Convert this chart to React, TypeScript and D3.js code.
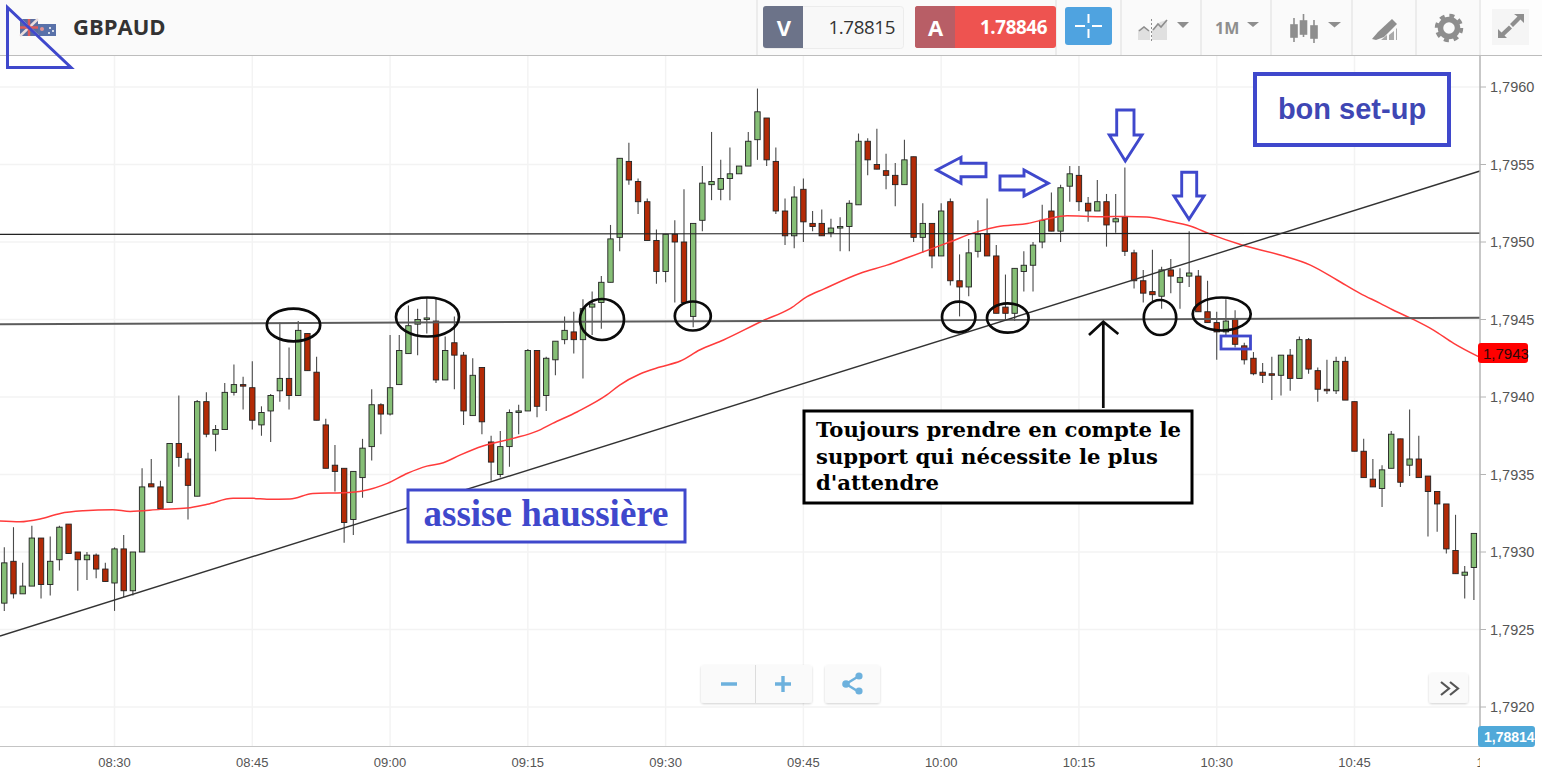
import React from "react";
import * as d3 from "d3";

// Price values are stored as fifth-decimal points above 1.79000 (303 => 1.79303).
const highs = [303,316,293,317,309,310,317,318,300,300,299,293,303,311,300,354,360,346,370,401,364,398,403,382,409,421,413,423,394,402,448,432,449,441,426,386,369,354,352,373,405,396,440,440,459,457,464,464,439,452,429,425,419,375,378,392,395,431,430,426,436,452,455,463,468,478,511,554,564,541,528,508,505,514,534,512,549,571,553,561,549,571,599,580,561,528,536,541,520,521,515,516,527,570,567,573,557,551,566,555,525,512,525,528,492,502,514,528,498,479,483,494,500,524,532,537,549,549,529,540,531,531,548,495,482,495,484,489,483,507,482,475,455,463,456,435,429,422,426,427,431,439,438,419,424,426,426,397,373,360,356,378,373,392,375,349,339,331,324,291,312];
const lows = [262,270,273,278,270,272,288,299,275,282,283,281,262,271,272,300,342,328,332,355,321,336,374,365,379,401,392,379,375,371,397,392,401,417,385,354,339,306,311,335,359,376,388,408,428,427,441,409,411,405,382,388,376,346,348,355,376,391,387,391,414,434,428,412,440,444,474,494,537,518,501,473,474,461,461,445,507,527,527,527,544,549,553,549,518,498,496,500,507,504,503,494,494,524,543,547,534,523,537,500,493,483,491,472,452,465,490,491,454,450,449,468,468,496,507,500,526,520,513,520,497,506,491,470,461,461,457,467,457,471,455,448,424,440,432,421,414,409,398,401,404,412,415,397,402,402,398,365,348,342,329,354,342,349,348,310,313,299,286,270,269];
const opens = [267,294,273,278,309,279,295,318,300,295,298,289,280,302,275,300,344,342,332,370,360,336,397,376,379,403,408,406,382,391,404,412,401,441,416,382,356,354,321,348,368,395,389,408,428,447,450,449,411,435,427,388,419,371,350,368,390,391,430,401,424,437,442,437,458,461,474,503,552,539,526,501,481,505,500,452,514,537,534,541,544,549,566,580,552,520,504,534,512,512,506,509,510,524,565,550,546,543,537,555,503,512,491,526,475,471,494,505,491,458,454,481,485,500,520,507,536,543,525,520,526,513,516,493,475,468,465,482,474,478,478,455,448,442,450,433,425,416,415,414,427,412,437,417,405,404,423,397,365,347,341,354,373,356,360,349,339,331,301,285,290];
const closes = [293,273,278,309,279,294,316,299,295,298,289,281,302,275,300,342,342,328,370,361,343,397,376,379,403,408,407,385,390,401,412,401,443,417,385,354,352,319,352,367,395,389,406,430,446,450,451,411,430,427,391,414,384,358,368,390,391,430,394,425,436,443,437,457,460,474,502,554,540,526,501,481,505,500,461,512,538,539,541,544,549,565,584,553,520,504,529,513,510,504,509,510,525,565,553,547,543,537,553,503,512,491,520,475,471,493,505,491,454,454,483,485,498,514,507,535,544,526,520,526,511,515,494,475,467,466,482,478,477,480,455,448,442,449,434,424,415,414,414,427,412,437,418,405,404,423,398,365,348,342,353,376,345,360,348,339,331,302,286,287,312];

// Moving average: candle index / points.
const emaIndex = [-0.5,1.7,3.9,6.1,8.6,11.8,13.7,17,19.9,22.1,24.9,27.1,28.6,31.1,33.6,36.9,39.1,41.7,43.9,46,47.8,49.6,52.1,55.4,58,59.7,62.4,65.6,67,69.2,71.4,73.6,75.7,78.3,82.6,85.6,87.4,89.2,93.2,96.1,98.3,103,105.7,108.1,111.4,113.5,115.7,119.3,122.2,124.4,126.6,129.1,131.3,134.5,138.9,142.2,145.1,147.6,149.8,151.2,153.4,155.6,157.8,160.5];
const emaPoints = [320,319.5,321.3,324.9,326.6,327.3,326.2,327.5,328.4,330.8,334.6,334.6,334,334.2,337.8,338.2,339.5,344.3,350.8,355.4,357.6,362.5,368.4,373.3,378,383,390.5,401.3,407.7,414.8,419.3,423.2,430.3,436.8,449.2,457.2,464.7,469.6,479.8,485.1,489.8,500.2,506.2,509.8,512,514.8,516.9,516.3,516.5,516.1,513.7,510.3,505.1,498.5,491.6,485.1,475.5,466.9,460.4,456.1,450.1,443.2,434.6,426];

const priceTicks = [1.796, 1.7955, 1.795, 1.7945, 1.794, 1.7935, 1.793, 1.7925, 1.792];
const timeTickIndex = [12, 27, 42, 57, 72, 87, 102, 117, 132, 147, 162];
const timeTickLabels = ["08:30","08:45","09:00","09:15","09:30","09:45","10:00","10:15","10:30","10:45","11:00"];
const lastEma = 1.7943;
const lastPrice = "1,78814";
const bid = "1.78815";
const ask = "1.78846";

const BLUE = "#3f48cc";
const UI = "'Open Sans', sans-serif";
const AX = "'Liberation Sans', Arial, sans-serif";
const SERIF = "'DejaVu Serif', serif";
const ICON = "#8e8e8e";

const x = d3.scaleLinear().domain([0, 160]).range([4.3, 1473.9]);
const y = d3.scaleLinear().domain([1.796, 1.792]).range([87, 707]);
const price = (t: number) => 1.79 + t / 100000;
const fmt = (p: number) => p.toFixed(4).replace(".", ",");

const emaLine = d3.line<number>()
  .x((_, i) => x(emaIndex[i]))
  .y((p) => y(price(p)))
  .curve(d3.curveMonotoneX);

const arrows = [
  "936.7,170 961,157.3 961,163.3 986,163.3 986,176.7 961,176.7 961,183.3",
  "1000,176 1024,176 1024,170 1048.3,183.3 1024,196 1024,190 1000,190",
  "1116.7,110 1134,110 1134,135 1142,135 1125.3,161 1109.3,135 1116.7,135",
  "1181.7,172.3 1196.7,172.3 1196.7,196 1204,196 1189,219.3 1174,196 1181.7,196",
];
const ellipses = [
  [293.5, 325, 26.7, 16.3],
  [427.5, 317, 31.5, 19.5],
  [602, 319.5, 22, 20.5],
  [692.8, 316, 18, 14.5],
  [958.7, 317, 16.7, 15.3],
  [1007.8, 318, 20.8, 14.7],
  [1160, 317.5, 16.2, 17.5],
  [1221.7, 314, 29, 16.5],
];
const noteLines = ["Toujours prendre en compte le", "support qui nécessite le plus", "d'attendre"];
const dividers = [757, 1056, 1121, 1201, 1271, 1352, 1416, 1480];

export default function App() {
  return (
    <svg width={1542} height={775} style={{ position: "fixed", left: 0, top: 0, background: "#fff" }}>
      <defs>
        <clipPath id="plot"><rect x={0} y={56} width={1480} height={691} /></clipPath>
        <clipPath id="timeClip"><rect x={0} y={748} width={1480} height={27} /></clipPath>
        <filter id="sh" x="-10%" y="-10%" width="120%" height="130%">
          <feDropShadow dx={0} dy={1} stdDeviation={1} floodColor="#000" floodOpacity={0.18} />
        </filter>
      </defs>

      {/* grid */}
      <g stroke="#f3f3f3" strokeWidth={1.5}>
        {priceTicks.map((p) => <line key={p} x1={0} x2={1480} y1={y(p)} y2={y(p)} />)}
        {timeTickIndex.slice(0, 10).map((i) => <line key={i} x1={x(i)} x2={x(i)} y1={56} y2={746} />)}
      </g>

      {/* candles */}
      <g clipPath="url(#plot)">
        {highs.map((h, i) => {
          const up = closes[i] >= opens[i];
          const t = y(price(Math.max(opens[i], closes[i])));
          const b = y(price(Math.min(opens[i], closes[i])));
          return (
            <g key={i}>
              <line x1={x(i)} x2={x(i)} y1={y(price(h))} y2={y(price(lows[i]))} stroke="#4a4a4a" strokeWidth={1.1} />
              <rect x={x(i) - 2.7} width={5.4} y={t} height={Math.max(b - t, 1)}
                fill={up ? "#86bf76" : "#b32a06"} stroke="#222" strokeWidth={0.9} />
            </g>
          );
        })}
        <path d={emaLine(emaPoints) ?? ""} fill="none" stroke="#ff3b3b" strokeWidth={1.5} />
      </g>

      {/* drawn support / resistance lines */}
      <line x1={0} y1={234.3} x2={1480} y2={233.2} stroke="#222" strokeWidth={1.2} />
      <line x1={0} y1={324.3} x2={1480} y2={317.8} stroke="#5c5c5c" strokeWidth={1.9} />
      <line x1={0} y1={636} x2={1480} y2={171} stroke="#333" strokeWidth={1.4} />

      {/* axes */}
      <line x1={1480} x2={1480} y1={56} y2={747} stroke="#b4b4b4" strokeWidth={1.5} />
      <line x1={0} x2={1480} y1={746.5} y2={746.5} stroke="#c4c4c4" strokeWidth={1.2} />
      {priceTicks.map((p) => (
        <g key={p}>
          <line x1={1480} x2={1486} y1={y(p)} y2={y(p)} stroke="#b4b4b4" />
          <text x={1490} y={y(p) + 5} fontFamily={AX} fontSize={14.5} fill="#555">{fmt(p)}</text>
        </g>
      ))}
      <g clipPath="url(#timeClip)">
        {timeTickIndex.map((i, k) => (
          <text key={i} x={x(i)} y={767} textAnchor="middle" fontFamily={AX} fontSize={13} fill="#555">{timeTickLabels[k]}</text>
        ))}
      </g>
      <rect x={1478} y={343} width={50} height={20} rx={3} fill="#ff0000" />
      <text x={1483} y={358.5} fontFamily={AX} fontSize={15} fill="#2c0808">{fmt(lastEma)}</text>
      <rect x={1478} y={726} width={57} height={21} rx={3} fill="#50a9d9" />
      <text x={1484} y={741.5} fontFamily={AX} fontSize={14} fontWeight="bold" fill="#fff">{lastPrice}</text>

      {/* toolbar */}
      <rect x={0} y={0} width={1542} height={55} fill="#fafafa" />
      <rect x={1481} y={0} width={61} height={55} fill="#fdfdfd" />
      <line x1={0} x2={1542} y1={55.5} y2={55.5} stroke="#bdbdbd" strokeWidth={1.2} />
      {dividers.map((d) => <line key={d} x1={d} x2={d} y1={0} y2={55} stroke="#dedede" />)}

      {/* flag */}
      <g opacity={0.85}>
        <rect x={20} y={19} width={18} height={17} fill="#3d5490" />
        <rect x={38} y={24} width={18} height={12} fill="#3d5a9c" />
        <path d="M20 19L38 36M38 19L20 36" stroke="#e8d8d8" strokeWidth={2.5} />
        <path d="M29 19V36M20 27.5H38" stroke="#d84040" strokeWidth={2.5} />
        <circle cx={42} cy={29} r={2} fill="#e08080" />
        <circle cx={50} cy={28} r={1} fill="#fff" />
        <circle cx={53} cy={31} r={1} fill="#fff" />
        <circle cx={49} cy={33} r={1} fill="#fff" />
      </g>
      <text x={73} y={35} fontFamily={UI} fontWeight="bold" fontSize={22} fill="#333">GBPAUD</text>

      {/* bid */}
      <rect x={763.5} y={6.5} width={140} height={42} rx={3} fill="#f8f8f8" stroke="#ececec" />
      <path d="M766 6H803V48H766Q763 48 763 45V9Q763 6 766 6Z" fill="#6c7389" />
      <text x={784} y={35.5} textAnchor="middle" fontFamily={UI} fontWeight="bold" fontSize={22} fill="#fff">V</text>
      <text x={895} y={33.5} textAnchor="end" fontFamily={UI} fontSize={18.8} fill="#333" letterSpacing={-0.4}>{bid}</text>
      {/* ask */}
      <rect x={915} y={6} width={141} height={42} rx={3} fill="#ee5350" />
      <path d="M918 6H955V48H918Q915 48 915 45V9Q915 6 918 6Z" fill="#b85e66" />
      <text x={935.5} y={35.5} textAnchor="middle" fontFamily={UI} fontWeight="bold" fontSize={22} fill="#fff">A</text>
      <text x={1047} y={33.5} textAnchor="end" fontFamily={UI} fontWeight="bold" fontSize={18.8} fill="#fff" letterSpacing={-0.4}>{ask}</text>
      {/* crosshair */}
      <rect x={1065} y={7} width={47} height={38} rx={3} fill="#4fa3e0" />
      <path d="M1075 26H1085M1092 26H1102M1088.5 14V23M1088.5 29V38" stroke="#fff" strokeWidth={2} fill="none" />

      {/* chart type icon */}
      <path d="M1138 30L1144 26L1150 31V40H1138Z" fill="#e0e0e0" />
      <path d="M1152 30L1160 22L1167 20V40H1152Z" fill="#e0e0e0" />
      <path d="M1139 31L1144 27L1149 31M1153 30L1158 24L1161 27L1167 20" stroke={ICON} strokeWidth={1.6} fill="none" />
      <line x1={1151.5} x2={1151.5} y1={19} y2={41} stroke={ICON} strokeDasharray="2 2" />
      <path d="M1177 22H1189L1183 28Z" fill={ICON} />
      <text x={1215} y={34} fontFamily={UI} fontWeight="bold" fontSize={16} fill={ICON}>1M</text>
      <path d="M1247 22H1259L1253 27Z" fill={ICON} />
      {/* candle icon */}
      <g stroke={ICON} strokeWidth={1.6} fill={ICON}>
        <line x1={1294} x2={1294} y1={18} y2={42} /><rect x={1291} y={25} width={6} height={12} />
        <line x1={1303.5} x2={1303.5} y1={14} y2={37} /><rect x={1300.5} y={21} width={6} height={13} />
        <line x1={1314} x2={1314} y1={20} y2={43} /><rect x={1311} y={26} width={6} height={12} />
      </g>
      <path d="M1328 22H1341L1334.5 27.5Z" fill={ICON} />
      {/* pencil icon */}
      <path d="M1372 39L1378 32L1392 19L1397 24L1384 37L1376 40Z" fill={ICON} />
      <path d="M1381 40L1387 40L1387 35ZM1389 40H1394V31L1389 35ZM1396 40H1397V28L1396 29Z" fill="#a9a9a9" />
      {/* gear */}
      <circle cx={1449} cy={28} r={8.5} fill="none" stroke={ICON} strokeWidth={5.5} />
      <circle cx={1449} cy={28} r={12.5} fill="none" stroke={ICON} strokeWidth={3.5} strokeDasharray="5 4.82" />
      {/* expand */}
      <rect x={1492} y={9} width={37} height={36} fill="#f5f5f5" />
      <path d="M1524 14V23L1520.5 19.5L1513 27L1510 24L1517.5 16.5L1514 14ZM1498 38V29L1501.5 32.5L1509 25.5L1512 28.5L1504.5 35.5L1507 38Z" fill={ICON} />

      {/* bottom buttons */}
      <rect x={701} y={665} width={111} height={38} rx={3} fill="#fafafa" filter="url(#sh)" />
      <line x1={755.5} x2={755.5} y1={665} y2={703} stroke="#dcdcdc" />
      <path d="M721 684H737M775 684H791M783 676V692" stroke="#6db1dd" strokeWidth={3.4} fill="none" />
      <rect x={825} y={665} width={55} height={38} rx={3} fill="#fafafa" filter="url(#sh)" />
      <path d="M859 676L846 684L859 692" stroke="#6db1dd" strokeWidth={2.5} fill="none" />
      <circle cx={846} cy={684} r={3.8} fill="#6db1dd" />
      <circle cx={859} cy={676} r={3.6} fill="#6db1dd" />
      <circle cx={859} cy={691} r={3.6} fill="#6db1dd" />
      <rect x={1429} y={673} width={39} height={30} rx={3} fill="#fafafa" filter="url(#sh)" />
      <path d="M1441 682L1449 688.5L1441 695M1450 682L1458 688.5L1450 695" stroke="#555" strokeWidth={2.2} fill="none" />

      {/* annotations */}
      {ellipses.map(([cx, cy, rx, ry], i) => (
        <ellipse key={i} cx={cx} cy={cy} rx={rx} ry={ry} fill="none" stroke="#0a0a0a" strokeWidth={2.7} />
      ))}
      {arrows.map((p, i) => <polygon key={i} points={p} fill="none" stroke={BLUE} strokeWidth={2.9} />)}
      <path d="M1103.3 408V322M1089 335L1103.3 321.7L1118.3 334" fill="none" stroke="#0a0a0a" strokeWidth={2.7} />
      <rect x={1221} y={336} width={29.5} height={13} fill="none" stroke={BLUE} strokeWidth={2.8} />
      <polygon points="7.5,7.5 7.5,67.5 71,67.5" fill="none" stroke={BLUE} strokeWidth={3} />

      <rect x={1255} y={74} width={194} height={71} fill="#fff" stroke={BLUE} strokeWidth={4} />
      <text x={1352} y={119} textAnchor="middle" fontFamily={AX} fontWeight="bold" fontSize={29} fill="#3f47b4">bon set-up</text>

      <rect x={408} y={490} width={277} height={52} fill="#fff" stroke={BLUE} strokeWidth={3} />
      <text x={546} y={526} textAnchor="middle" fontFamily="'Liberation Serif', serif" fontWeight="bold" fontSize={37} fill={BLUE}>assise haussière</text>

      <rect x={804} y={411} width={388} height={92} fill="#fff" stroke="#000" strokeWidth={3} />
      {noteLines.map((t, i) => (
        <text key={i} x={816} y={437 + i * 26.7} fontFamily={SERIF} fontWeight="bold" fontSize={21.2} fill="#000">{t}</text>
      ))}
    </svg>
  );
}
